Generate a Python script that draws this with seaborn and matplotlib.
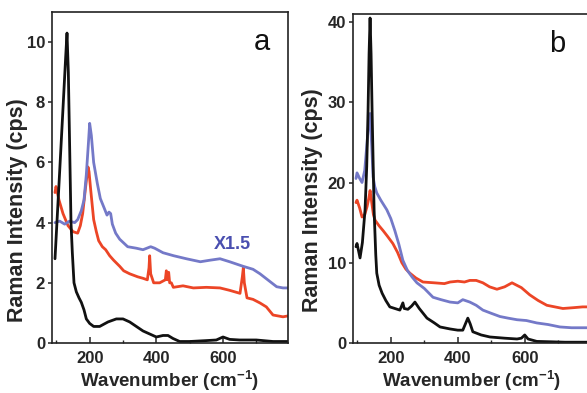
import matplotlib
matplotlib.use("Agg")
import matplotlib.pyplot as plt
from matplotlib.ticker import MultipleLocator
import seaborn as sns
import pandas as pd

# panel a
a_black_x = [96, 110, 120, 128, 132, 136, 140, 144, 148, 153, 160, 168, 175, 183, 190, 200,
             212, 230, 255, 280, 300, 320, 340, 360, 380, 400, 420, 435, 450, 470, 500, 550,
             580, 600, 620, 650, 700, 750, 795]
a_black_y = [2.8, 5.7, 7.8, 9.5, 10.3, 9.0, 6.5, 4.0, 3.0, 2.0, 1.7, 1.5, 1.35, 1.1, 0.8, 0.65,
             0.55, 0.55, 0.7, 0.8, 0.8, 0.7, 0.55, 0.4, 0.3, 0.2, 0.25, 0.25, 0.15, 0.05, 0.05, 0.08,
             0.1, 0.2, 0.12, 0.1, 0.1, 0.05, 0.05]

a_red_x = [96, 99, 108, 120, 135, 150, 164, 172, 179, 188, 195, 198, 203, 212, 220, 227, 238,
           248, 260, 272, 290, 302, 320, 344, 360, 373, 378, 380, 383, 392, 410, 427, 430, 433,
           437, 440, 445, 451, 480, 511, 550, 591, 620, 651, 658, 661, 664, 672, 690, 711, 730,
           750, 765, 780, 795]
a_red_y = [5.0, 5.2, 4.75, 4.3, 3.9, 3.7, 3.65, 3.9, 4.3, 5.2, 5.85, 5.7, 5.1, 4.1, 3.7, 3.4, 3.2,
           3.1, 2.9, 2.75, 2.55, 2.4, 2.3, 2.2, 2.15, 2.1, 2.5, 2.9, 2.3, 2.0, 2.0, 2.1, 2.4, 2.1,
           2.35, 2.0, 2.0, 1.85, 1.9, 1.83, 1.85, 1.83, 1.75, 1.65, 2.2, 2.5, 2.0, 1.5, 1.45, 1.33,
           1.2, 0.93, 0.9, 0.87, 0.9]

a_blue_x = [96, 110, 125, 140, 155, 164, 175, 183, 190, 196, 200, 205, 212, 223, 232, 243, 252,
            258, 263, 268, 278, 290, 314, 340, 360, 383, 395, 420, 452, 490, 532, 560, 591, 620,
            660, 690, 711, 740, 761, 780, 795]
a_blue_y = [4.0, 4.05, 3.95, 4.05, 4.0, 4.1, 4.4, 4.75, 5.6, 6.6, 7.3, 6.9, 6.0, 5.3, 4.8, 4.5,
            4.25, 4.35, 4.3, 3.95, 3.65, 3.45, 3.2, 3.15, 3.1, 3.2, 3.15, 3.0, 2.9, 2.8, 2.7, 2.75,
            2.8, 2.7, 2.55, 2.45, 2.3, 2.05, 1.87, 1.83, 1.83]

# panel b
b_black_x = [96, 99, 108, 115, 123, 128, 132, 135, 138, 141, 144, 150, 155, 158, 165, 174, 185,
             197, 212, 227, 236, 240, 251, 262, 272, 285, 308, 330, 347, 377, 400, 415, 422, 430,
             437, 445, 470, 496, 540, 577, 590, 600, 610, 636, 680, 720, 760, 790]
b_black_y = [12.0, 12.4, 10.6, 12.5, 16.6, 22, 29, 36, 40.5, 36, 29, 16.6, 11, 8.7, 7.2, 6.2, 5.3,
             4.5, 4.3, 4.1, 5.0, 4.3, 4.2, 4.6, 5.1, 4.3, 3.1, 2.5, 2.0, 1.75, 1.6, 1.6, 2.3, 3.1,
             2.4, 1.4, 1.0, 0.75, 0.6, 0.5, 0.6, 1.0, 0.5, 0.2, 0.15, 0.1, 0.1, 0.1]

b_red_x = [96, 99, 107, 114, 122, 129, 134, 138, 143, 148, 153, 165, 177, 190, 206, 220, 233,
           245, 257, 275, 296, 330, 360, 377, 400, 420, 436, 455, 475, 495, 517, 540, 562, 590,
           615, 640, 666, 690, 714, 745, 773, 790]
b_red_y = [17.5, 17.8, 16.8, 15.7, 16.0, 17.0, 18.0, 19.0, 17.5, 16.0, 15.3, 14.6, 14.0, 13.3,
           12.4, 11.3, 10.0, 9.2, 8.7, 8.1, 7.6, 7.5, 7.4, 7.6, 7.7, 7.6, 7.8, 7.8, 7.5, 7.0, 6.7,
           7.0, 7.5, 6.9, 6.0, 5.3, 4.7, 4.5, 4.3, 4.4, 4.5, 4.5]

b_blue_x = [96, 99, 107, 114, 122, 129, 134, 138, 143, 147, 152, 158, 170, 188, 200, 212, 224,
            236, 250, 264, 278, 300, 326, 350, 377, 400, 415, 436, 455, 475, 500, 526, 550, 577,
            605, 636, 670, 705, 740, 773, 790]
b_blue_y = [20.5, 21.2, 20.5, 20.0, 21.5, 25, 27.5, 28.6, 24.5, 20.7, 19.5, 18.7, 17.8, 16.6,
            15.5, 14.0, 12.3, 10.3, 9.0, 8.2, 7.5, 6.8, 5.7, 5.4, 5.1, 5.0, 5.4, 5.1, 4.7, 4.1,
            3.7, 3.3, 3.1, 2.9, 2.8, 2.5, 2.3, 2.0, 1.9, 1.9, 1.9]

BLACK = "#111111"
RED = "#ec4526"
BLUE = "#7479c8"

sns.set_style("ticks")
plt.rcParams["font.family"] = ["Liberation Sans", "DejaVu Sans"]
plt.rcParams["font.weight"] = "bold"
plt.rcParams["mathtext.fontset"] = "custom"
plt.rcParams["mathtext.bf"] = "Liberation Sans:bold"
plt.rcParams["mathtext.rm"] = "Liberation Sans:bold"

fig = plt.figure(figsize=(5.87, 3.93), dpi=100)
ax_a = fig.add_axes([52 / 587, 50 / 393, 236 / 587, 331 / 393])
ax_b = fig.add_axes([353 / 587, 50 / 393, 237 / 587, 329 / 393])


def draw(ax, series):
    for xs, ys, col in series:
        df = pd.DataFrame({"x": xs, "y": ys})
        sns.lineplot(data=df, x="x", y="y", ax=ax, color=col, lw=2.0,
                     estimator=None, sort=False)


draw(ax_a, [(a_red_x, a_red_y, RED), (a_blue_x, a_blue_y, BLUE),
            (a_black_x, a_black_y, BLACK)])
draw(ax_b, [(b_red_x, b_red_y, RED), (b_blue_x, b_blue_y, BLUE),
            (b_black_x, b_black_y, BLACK)])

panels = [(ax_a, (0, 11), 2, "a", 0.89, -0.10, 0.40),
          (ax_b, (0, 41), 10, "b", 0.86, -0.127, 0.435)]
for ax, ylim, ymaj, lab, lab_x, lx, ly in panels:
    ax.set_xlim(87, 795)
    ax.set_ylim(*ylim)
    ax.xaxis.set_major_locator(MultipleLocator(200))
    ax.xaxis.set_minor_locator(MultipleLocator(100))
    ax.yaxis.set_major_locator(MultipleLocator(ymaj))
    ax.tick_params(axis="x", which="major", direction="in", length=4, width=1.1,
                   labelsize=12, pad=6)
    ax.tick_params(axis="x", which="minor", direction="in", length=2.5, width=1.0)
    ax.tick_params(axis="y", direction="out", length=3, width=1.1, labelsize=12, pad=2)
    for sp in ax.spines.values():
        sp.set_linewidth(1.2)
        sp.set_color("#222222")
    ax.set_xlabel(r"Wavenumber (cm$^{\mathbf{-1}}$)", fontsize=13.5, fontweight="bold",
                  labelpad=1)
    ax.set_ylabel("Raman Intensity (cps)", fontsize=15.5, fontweight="bold")
    ax.yaxis.set_label_coords(lx, ly)
    ax.text(lab_x, 0.91, lab, transform=ax.transAxes, fontsize=21, fontweight="normal",
            ha="center", va="center", color="#111111")

ax_a.text(627, 3.26, "X1.5", color="#4a4fb0", fontsize=13, fontweight="bold",
          ha="center", va="center")

fig.savefig("out.png", dpi=100)
